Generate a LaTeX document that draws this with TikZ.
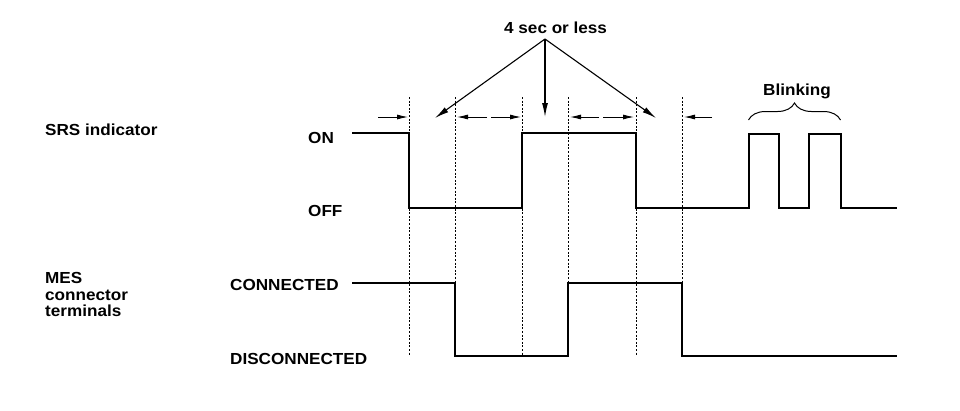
\documentclass[tikz,border=0pt]{standalone}
\usepackage{fontspec}
\setmainfont{Liberation Sans}[FakeStretch=1.07]
\usetikzlibrary{arrows.meta,decorations.pathreplacing}
\begin{document}
\begin{tikzpicture}[x=1pt,y=-1pt,
  lbl/.style={font=\bfseries\fontsize{16}{18}\selectfont, anchor=base west, inner sep=0pt},
  wave/.style={line width=2.6pt, line join=miter, line cap=butt},
  guide/.style={line width=0.9pt, dash pattern=on 2pt off 1.6pt},
  tickarrow/.style={line width=0.9pt, -{Latex[length=11pt,width=5pt]}},
  pointer/.style={line width=1.1pt, -{Latex[length=14pt,width=6pt]}},
  blbrace/.style={line width=1pt, decorate, decoration={brace, amplitude=17pt}}]
\useasboundingbox (0,0) rectangle (960,410);

% labels
\node[lbl] (srs) at (45,135) {SRS indicator};
\node[lbl] (on) at (308,143) {ON};
\node[lbl] (off) at (308,216.5) {OFF};
\node[lbl] (mes) at (45,283) {MES};
\node[lbl] (conn) at (45,300) {connector};
\node[lbl] (term) at (45,316) {terminals};
\node[lbl] (connected) at (230,290) {CONNECTED};
\node[lbl] (disc) at (230,364) {DISCONNECTED};
\node[lbl] (foursec) at (504,33.3) {4 sec or less};
\node[lbl] (blink) at (763,95) {Blinking};

% guide lines
\foreach \x in {409,455,522,568,636,682}
  \draw[guide] (\x,97) -- (\x,356);

% SRS indicator waveform
\draw[wave] (352,133) -- (409,133) -- (409,208) -- (522,208) -- (522,133)
  -- (636,133) -- (636,208) -- (749,208) -- (749,134) -- (779,134) -- (779,208)
  -- (809,208) -- (809,134) -- (841,134) -- (841,208) -- (897,208);

% MES waveform
\draw[wave] (352,283) -- (455,283) -- (455,356) -- (568,356) -- (568,283)
  -- (682,283) -- (682,356) -- (897,356);

% small timing arrows
\draw[tickarrow] (378,117) -- (408,117);
\draw[tickarrow] (487,117) -- (457,117);
\draw[tickarrow] (491,117) -- (521,117);
\draw[tickarrow] (599,117) -- (570,117);
\draw[tickarrow] (603,117) -- (634,117);
\draw[tickarrow] (712,117) -- (684,117);

% 4 sec pointers
\coordinate (apex) at (545,39);
\draw[pointer] (apex) -- (435,118);
\draw[pointer] (apex) -- (545,117);
\draw[pointer] (apex) -- (656,118);

% brace
\draw[blbrace] (748.5,120) -- (840.5,120);
\end{tikzpicture}
\end{document}
